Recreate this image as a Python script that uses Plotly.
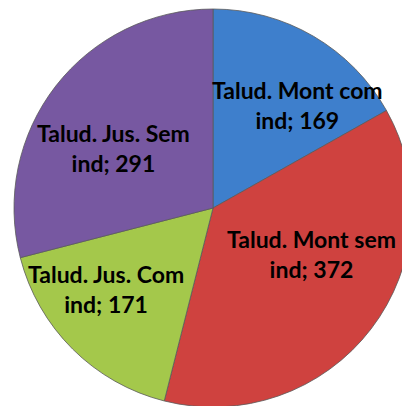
import plotly.graph_objects as go

labels = ['Talud. Mont com', 'Talud. Mont sem', 'Talud. Jus. Com', 'Talud. Jus. Sem']
values = [169, 372, 171, 291]
colors = ['#3e7fcc', '#cf423f', '#a4c84b', '#7758a1']

# label placement inside each slice (paper coords)
label_x = [0.707, 0.741, 0.239, 0.257]
label_y = [0.761, 0.395, 0.308, 0.656]

fig = go.Figure(go.Pie(
    labels=labels,
    values=values,
    sort=False,
    direction='clockwise',
    rotation=0,
    marker=dict(colors=colors, line=dict(color='#5a5a5a', width=0.8)),
    textinfo='none',
    showlegend=False,
    hoverinfo='label+value',
    domain=dict(x=[0.0146, 0.9854], y=[0.0172, 0.9975]),
))

for lab, val, x, y in zip(labels, values, label_x, label_y):
    fig.add_annotation(
        text='<b>' + lab + '<br>ind; ' + str(val) + '</b>',
        x=x, y=y, xref='paper', yref='paper',
        xanchor='center', yanchor='middle',
        showarrow=False, align='center',
        font=dict(family='Lato', size=23, color='black'),
    )

fig.update_layout(
    width=410,
    height=406,
    margin=dict(l=0, r=0, t=0, b=0),
    paper_bgcolor='white',
)

fig.write_html('out.html')
